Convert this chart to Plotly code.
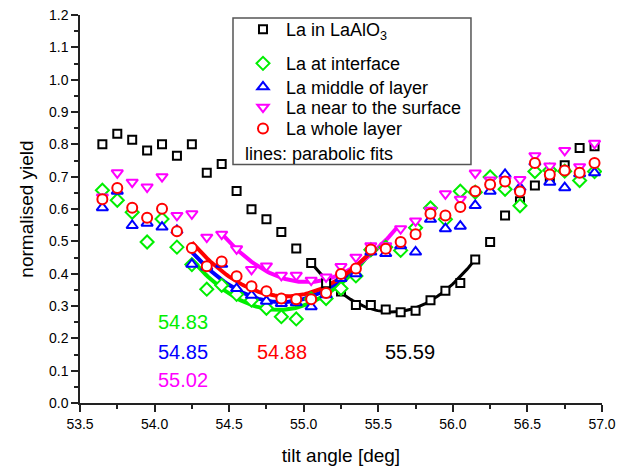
import numpy as np
import plotly.graph_objects as go

# tilt angle scan positions (deg)
tilt = [53.65, 53.75, 53.85, 53.95, 54.05, 54.15, 54.25, 54.35, 54.45, 54.55,
        54.65, 54.75, 54.85, 54.95, 55.05, 55.15, 55.25, 55.35, 55.45, 55.55,
        55.65, 55.75, 55.85, 55.95, 56.05, 56.15, 56.25, 56.35, 56.45, 56.55,
        56.65, 56.75, 56.85, 56.95]

la_laalo3 = [0.800, 0.833, 0.814, 0.781, 0.800, 0.765, 0.800, 0.712, 0.739, 0.656,
             0.599, 0.568, 0.529, 0.478, 0.433, 0.370, 0.345, 0.303, 0.303, 0.289,
             0.281, 0.285, 0.318, 0.347, 0.371, 0.444, 0.498, 0.580, 0.624, 0.673,
             0.690, 0.735, 0.789, 0.794]
la_interface = [0.658, 0.627, 0.590, 0.498, 0.569, 0.482, 0.428, 0.352, 0.364, 0.336,
                0.318, 0.293, 0.267, 0.260, 0.322, 0.323, 0.354, 0.393, 0.474, 0.482,
                0.472, 0.542, 0.603, 0.568, 0.655, 0.652, 0.699, 0.661, 0.610, 0.716,
                0.720, 0.717, 0.688, 0.716]
la_middle = [0.604, 0.655, 0.549, 0.556, 0.544, 0.534, 0.429, 0.421, 0.429, 0.354,
             0.333, 0.315, 0.308, 0.310, 0.298, 0.335, 0.385, 0.400, 0.467, 0.462,
             0.486, 0.467, 0.568, 0.539, 0.547, 0.611, 0.655, 0.707, 0.666, 0.745,
             0.683, 0.666, 0.709, 0.712]
la_surface = [0.637, 0.712, 0.683, 0.668, 0.700, 0.580, 0.585, 0.513, 0.522, 0.477,
              0.413, 0.424, 0.395, 0.395, 0.380, 0.390, 0.422, 0.451, 0.486, 0.486,
              0.539, 0.563, 0.596, 0.647, 0.630, 0.711, 0.690, 0.690, 0.691, 0.765,
              0.733, 0.781, 0.731, 0.803]
la_whole = [0.630, 0.665, 0.604, 0.573, 0.601, 0.531, 0.479, 0.423, 0.438, 0.392,
            0.361, 0.346, 0.323, 0.321, 0.321, 0.340, 0.399, 0.416, 0.475, 0.477,
            0.498, 0.522, 0.585, 0.580, 0.606, 0.655, 0.676, 0.685, 0.654, 0.742,
            0.707, 0.719, 0.712, 0.742]

series_names = ["La in LaAlO<sub>3</sub>", "La at interface", "La middle of layer",
                "La near to the surface", "La whole layer"]
series_values = [la_laalo3, la_interface, la_middle, la_surface, la_whole]
series_colors = ["#000000", "#00ee00", "#0000ff", "#ff00ff", "#ff0000"]
series_symbols = ["square", "diamond", "triangle-up", "triangle-down", "circle"]
series_sizes = [8, 10, 10, 10, 10]

# parabolic fits: minimum position, minimum yield, curvature, fitted range
fit_vertex = [55.59, 54.83, 54.85, 55.02, 54.88]
fit_min = [0.281, 0.288, 0.312, 0.374, 0.330]
fit_curv = [0.52, 0.46, 0.43, 0.46, 0.42]
fit_from = [55.05, 54.25, 54.25, 54.44, 54.25]
fit_to = [56.15, 55.47, 55.47, 55.63, 55.47]
fit_widths = [3, 4, 4, 4, 4]

# position of the minimum labels
label_x = [55.71, 54.19, 54.19, 54.19, 54.855]
label_y = [0.157, 0.250, 0.157, 0.071, 0.157]

# one legend row per series (paper y of each row centre)
legend_rows = [0.960, 0.8724, 0.8121, 0.7597, 0.7051]

FONT = "Liberation Sans, Arial, sans-serif"

fig = go.Figure()

for k in range(5):
    xs = np.linspace(fit_from[k], fit_to[k], 80)
    ys = fit_curv[k] * (xs - fit_vertex[k]) ** 2 + fit_min[k]
    fig.add_trace(go.Scatter(x=xs, y=ys, mode="lines", showlegend=False,
                             line=dict(color=series_colors[k], width=fit_widths[k]),
                             hoverinfo="skip"))

legend_keys = ["legend", "legend2", "legend3", "legend4", "legend5"]
for k in range(5):
    fig.add_trace(go.Scatter(
        x=tilt, y=series_values[k], mode="markers", name=series_names[k],
        legend=legend_keys[k],
        marker=dict(symbol=series_symbols[k], size=series_sizes[k], color="white",
                    line=dict(color=series_colors[k], width=2))))

for k in range(5):
    fig.add_annotation(x=label_x[k], y=label_y[k], text="%.2f" % fit_vertex[k],
                       showarrow=False, font=dict(family=FONT, size=20, color=series_colors[k]),
                       xanchor="center", yanchor="middle")

fig.add_annotation(xref="paper", yref="paper", x=0.3123, y=0.643, text="lines: parabolic fits",
                   showarrow=False, xanchor="left", yanchor="middle",
                   font=dict(family=FONT, size=18, color="black"))
fig.add_shape(type="rect", xref="paper", yref="paper", x0=0.2931, x1=0.749, y0=0.6144, y1=0.992,
              line=dict(color="#555555", width=1.5), fillcolor="rgba(0,0,0,0)")

axis_common = dict(showline=True, linecolor="#222222", linewidth=1.5, showgrid=False,
                   zeroline=False, tickcolor="#222222", tickwidth=1.5, automargin=False,
                   tickfont=dict(family=FONT, size=14, color="black"))

legend_style = dict(x=0.3065, xanchor="left", yanchor="middle",
                    bgcolor="rgba(0,0,0,0)", borderwidth=0, itemwidth=36,
                    font=dict(family=FONT, size=18), tracegroupgap=0)

fig.update_layout(
    width=632, height=466,
    margin=dict(l=80, r=30, t=14, b=63),
    paper_bgcolor="white", plot_bgcolor="white",
    font=dict(family=FONT, color="black"),
    showlegend=True,
    legend=dict(y=legend_rows[0], **legend_style),
    legend2=dict(y=legend_rows[1], **legend_style),
    legend3=dict(y=legend_rows[2], **legend_style),
    legend4=dict(y=legend_rows[3], **legend_style),
    legend5=dict(y=legend_rows[4], **legend_style),
    xaxis=dict(range=[53.5, 57.0], dtick=0.5, tick0=53.5, tickformat=".1f",
               ticks="outside", ticklen=7,
               minor=dict(dtick=0.25, ticks="outside", ticklen=4, tickcolor="#222222"),
               title=dict(text="tilt angle [deg]", font=dict(family=FONT, size=19), standoff=20),
               **axis_common),
    yaxis=dict(range=[0, 1.2], dtick=0.1, tick0=0, tickformat=".1f",
               ticks="outside", ticklen=7,
               minor=dict(dtick=0.05, ticks="outside", ticklen=4, tickcolor="#222222"),
               title=dict(text="normalised yield", font=dict(family=FONT, size=19), standoff=10),
               **axis_common),
    xaxis2=dict(overlaying="x", side="top", anchor="y", range=[53.5, 57.0], dtick=0.5, tick0=53.5,
                ticks="inside", ticklen=7, showticklabels=False,
                minor=dict(dtick=0.25, ticks="inside", ticklen=4, tickcolor="#222222"),
                **axis_common),
    yaxis2=dict(overlaying="y", side="right", anchor="x", range=[0, 1.2], dtick=0.1, tick0=0,
                ticks="inside", ticklen=7, showticklabels=False,
                minor=dict(dtick=0.05, ticks="inside", ticklen=4, tickcolor="#222222"),
                **axis_common),
)

fig.write_html("out.html")
